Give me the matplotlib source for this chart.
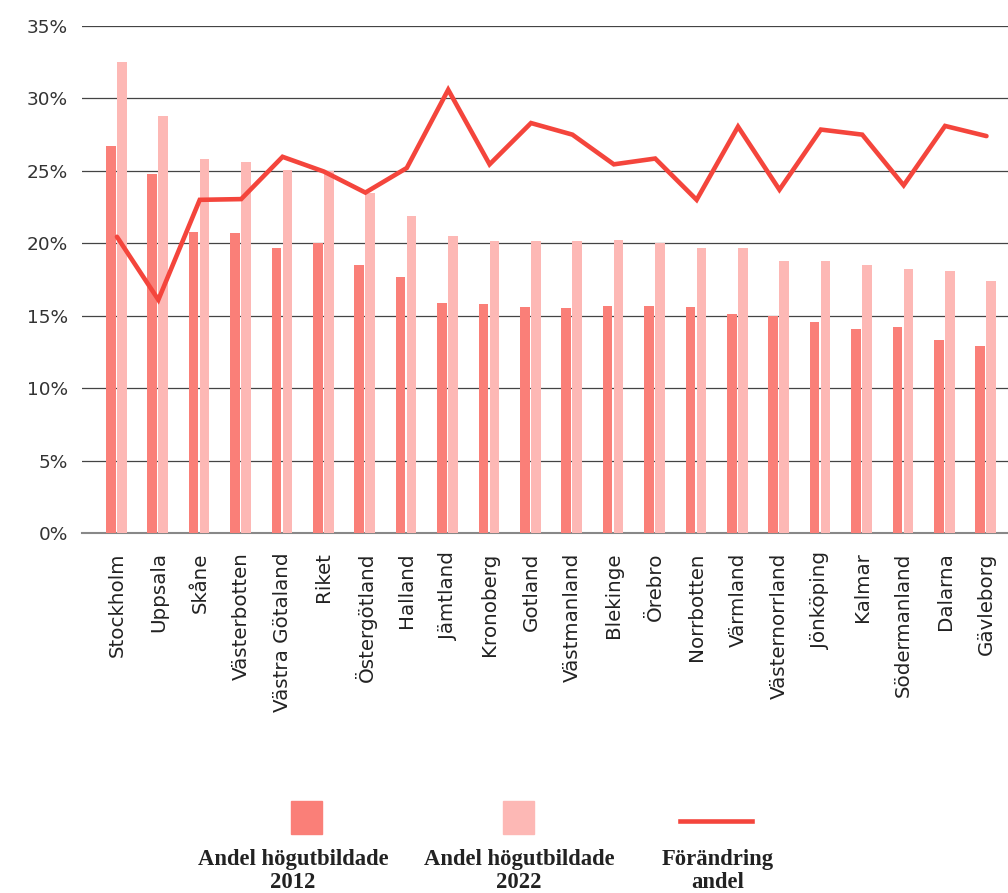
import matplotlib.pyplot as plt
import numpy as np
from matplotlib.patches import Rectangle
from matplotlib.lines import Line2D

# Data
regioner = ["Stockholm", "Uppsala", "Skåne", "Västerbotten", "Västra Götaland",
            "Riket", "Östergötland", "Halland", "Jämtland", "Kronoberg", "Gotland",
            "Västmanland", "Blekinge", "Örebro", "Norrbotten", "Värmland",
            "Västernorrland", "Jönköping", "Kalmar", "Södermanland", "Dalarna",
            "Gävleborg"]

andel_2012 = [26.7, 24.8, 20.8, 20.7, 19.7, 20.0, 18.5, 17.7, 15.9, 15.8, 15.6,
              15.5, 15.7, 15.7, 15.6, 15.1, 15.0, 14.6, 14.1, 14.2, 13.3, 12.9]

andel_2022 = [32.5, 28.8, 25.8, 25.6, 25.05, 25.0, 23.5, 21.9, 20.5, 20.15, 20.15,
              20.15, 20.2, 20.0, 19.7, 19.7, 18.8, 18.8, 18.5, 18.2, 18.1, 17.4]

forandring = [20.45, 16.1, 23.0, 23.05, 25.97, 24.95, 23.5, 25.2, 30.6, 25.45, 28.3,
              27.5, 25.45, 25.85, 23.0, 28.05, 23.7, 27.85, 27.5, 24.0, 28.1, 27.4]

ytick_varden = [0, 5, 10, 15, 20, 25, 30, 35]

FARG_2012 = "#FA7F78"
FARG_2022 = "#FDB8B5"
FARG_LINJE = "#F4453C"

fig = plt.figure(figsize=(10.08, 8.93), dpi=100)
ax = fig.add_axes([0.0813, 0.4031, 0.9187, 0.5678])

x = np.arange(len(regioner))
bredd = 0.232

# Staplar
ax.bar(x - 0.15, andel_2012, width=bredd, color=FARG_2012, zorder=2)
ax.bar(x + 0.115, andel_2022, width=bredd, color=FARG_2022, zorder=2)

# Linje
ax.plot(x, forandring, color=FARG_LINJE, linewidth=3.3, zorder=3,
        solid_joinstyle="miter", solid_capstyle="round")

ax.set_xlim(-0.845, 21.52)
ax.set_ylim(0, 35)
ax.set_yticks(ytick_varden)
ax.set_yticklabels([f"{v}%" for v in ytick_varden], fontsize=13.3, color="#333333")
ax.set_xticks(x)
ax.set_xticklabels(regioner, rotation=90, fontsize=14.3, color="#222222",
                   va="top", ha="center")

ax.grid(axis="y", color="#444444", linewidth=0.9, zorder=0)
ax.axhline(0, color="#888888", linewidth=1.5, zorder=1, clip_on=False)
ax.set_axisbelow(True)
ax.tick_params(axis="both", length=0)
ax.tick_params(axis="y", pad=10)
ax.tick_params(axis="x", pad=14)
for s in ax.spines.values():
    s.set_visible(False)

# Manuell legend under diagrammet
W, H = 1008, 893

def fx(px):
    return px / W

def fy(py):
    return 1 - py / H

fig.patches.append(Rectangle((fx(291), fy(834)), fx(31), 33 / H,
                             transform=fig.transFigure, color=FARG_2012))
fig.patches.append(Rectangle((fx(503), fy(834)), fx(31), 33 / H,
                             transform=fig.transFigure, color=FARG_2022))
fig.lines.append(Line2D([fx(680), fx(752)], [fy(821), fy(821)],
                        transform=fig.transFigure, color=FARG_LINJE, linewidth=3.3))

legend_text = [("Andel högutbildade", "2012", 293),
               ("Andel högutbildade", "2022", 519),
               ("Förändring", "andel", 718)]
for rad1, rad2, cx in legend_text:
    fig.text(fx(cx), fy(859), rad1, ha="center", va="center", fontsize=16.3,
             fontweight="bold", family="Liberation Serif", color="#222222")
    fig.text(fx(cx), fy(883), rad2, ha="center", va="center", fontsize=16.3,
             fontweight="bold", family="Liberation Serif", color="#222222")

fig.savefig("out.png", dpi=100)
